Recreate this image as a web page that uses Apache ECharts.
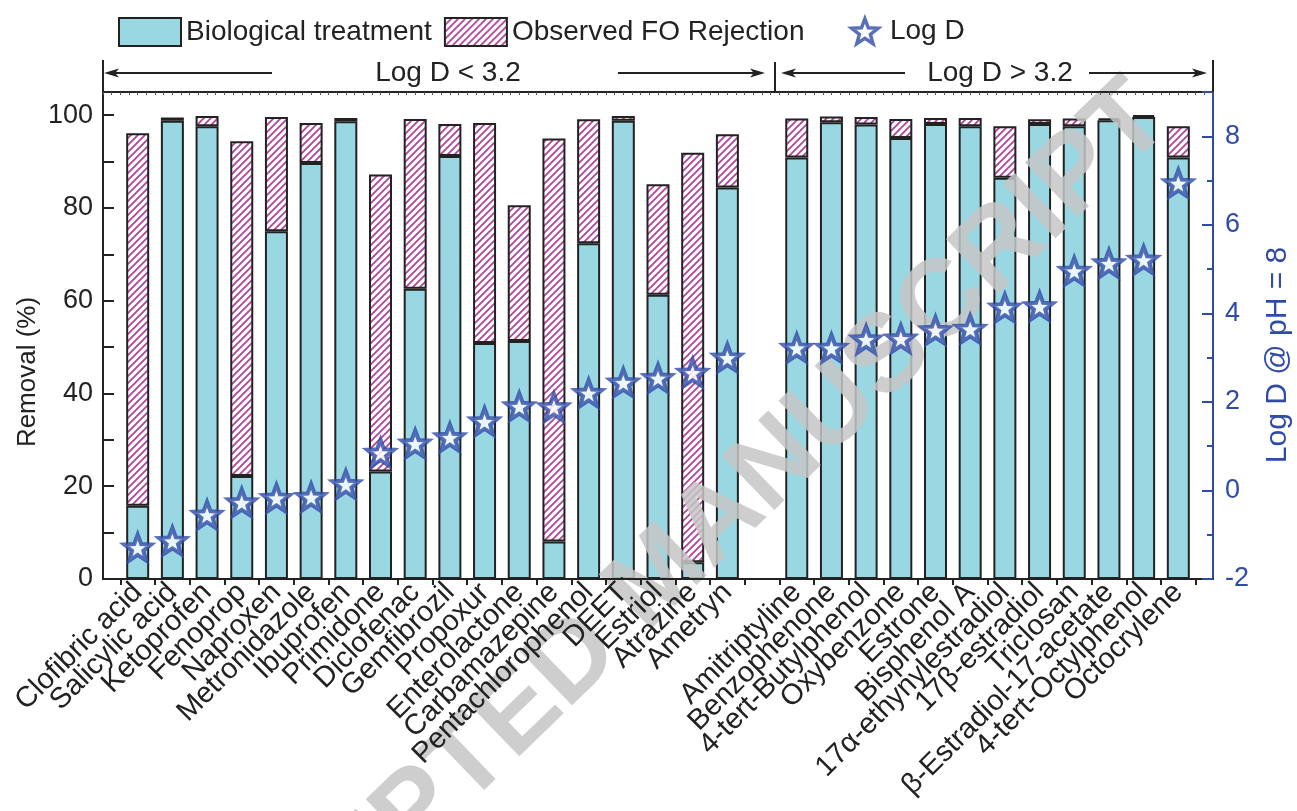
<!DOCTYPE html>
<html><head><meta charset="utf-8">
<script src="https://cdn.jsdelivr.net/npm/echarts@6/dist/echarts.min.js"></script>
<style>html,body{margin:0;padding:0;background:#fff}#c{width:1297px;height:811px}</style>
</head><body><div id="c"></div>
<script>
const categories = ['Clofibric acid','Salicylic acid','Ketoprofen','Fenoprop','Naproxen','Metronidazole','Ibuprofen','Primidone','Diclofenac','Gemfibrozil','Propoxur','Enterolactone','Carbamazepine','Pentachlorophenol','DEET','Estriol','Atrazine','Ametryn','',
 'Amitriptyline','Benzophenone','4-tert-Butylphenol','Oxybenzone','Estrone','Bisphenol A','17α-ethynylestradiol','17β-estradiol','Triclosan','β-Estradiol-17-acetate','4-tert-Octylphenol','Octocrylene'];
const biological = [15.8, 98.8, 97.6, 22.2, 75.0, 89.7, 98.7, 23.2, 62.6, 91.2, 50.9, 51.3, 8.1, 72.4, 98.8, 61.3, 3.6, 84.4, null,
 90.9, 98.5, 98.0, 95.1, 98.1, 97.6, 86.5, 98.1, 97.6, 98.9, 99.6, 90.9];
const observedTotal = [96.1, 99.5, 99.8, 94.4, 99.6, 98.3, 99.4, 87.2, 99.2, 98.1, 98.3, 80.6, 95.0, 99.1, 99.8, 85.1, 91.9, 95.9, null,
 99.3, 99.7, 99.6, 99.2, 99.4, 99.4, 97.6, 99.1, 99.3, 99.3, 100.0, 97.6];
const logD = [-1.29, -1.14, -0.55, -0.27, -0.17, -0.15, 0.14, 0.85, 1.06, 1.2, 1.56, 1.9, 1.88, 2.2, 2.44, 2.54, 2.66, 3.0, null,
 3.22, 3.22, 3.41, 3.43, 3.62, 3.65, 4.13, 4.16, 4.96, 5.13, 5.21, 6.94];
const groupLabels = ['Log D < 3.2', 'Log D > 3.2'];

const FONT = "'Liberation Sans', Arial, Helvetica, sans-serif";
const BLUE = '#2f4ba8';
const CYAN = '#99d8e3';
const MAG = '#b4479d';
const INK = '#222';

const W = 1297, H = 811;
const PL = 103, PR = 1213, PT = 92, PB = 579;
const half = (PR - PL) / 32 / 2;

const pc = document.createElement('canvas');
const s = 7; pc.width = s; pc.height = s;
const g = pc.getContext('2d');
g.fillStyle = '#fff'; g.fillRect(0, 0, s, s);
g.strokeStyle = MAG; g.lineWidth = 1.9;
g.beginPath();
g.moveTo(0, s); g.lineTo(s, 0);
g.moveTo(-2, 2); g.lineTo(2, -2);
g.moveTo(s - 2, s + 2); g.lineTo(s + 2, s - 2);
g.stroke();
const hatch = { image: pc, repeat: 'repeat' };

function starPath() {
  let p = '';
  for (let i = 0; i < 10; i++) {
    const r = i % 2 ? 0.42 : 1;
    const a = -Math.PI / 2 + i * Math.PI / 5;
    p += (i ? 'L' : 'M') + (r * Math.cos(a) * 10 + 10).toFixed(2) + ' ' + (r * Math.sin(a) * 10 + 10).toFixed(2);
  }
  return 'path://' + p + 'Z';
}
const STAR = starPath();

const foPart = observedTotal.map((t, i) => (t == null ? null : +(t - biological[i]).toFixed(2)));

const chart = echarts.init(document.getElementById('c'), null, { renderer: 'canvas' });

function arrow(x1, x2, y) {
  const dir = x2 > x1 ? 1 : -1;
  const L = 15, hw = 4.5;
  return [
    { type: 'line', shape: { x1: x1, y1: y, x2: x2 - dir * L * 0.6, y2: y }, style: { stroke: INK, lineWidth: 2 }, z: 50 },
    { type: 'polygon', shape: { points: [[x2, y], [x2 - dir * L, y - hw], [x2 - dir * L * 0.75, y], [x2 - dir * L, y + hw]] }, style: { fill: INK }, z: 50 }
  ];
}

const yA = 73;
const divX = 775;
const graphics = [
  { type: 'text', x: 660, y: 578, rotation: 44 * Math.PI / 180, silent: true,
    style: { text: 'ACCEPTED MANUSCRIPT', font: 'bold 110px ' + FONT, fill: 'rgba(198,198,198,0.85)', textAlign: 'center', textVerticalAlign: 'middle' }, z: 3 },
  { type: 'line', shape: { x1: PL, y1: 60, x2: PL, y2: PT }, style: { stroke: INK, lineWidth: 2 }, z: 50 },
  { type: 'line', shape: { x1: divX, y1: 62, x2: divX, y2: PT }, style: { stroke: INK, lineWidth: 2 }, z: 50 },
  { type: 'line', shape: { x1: PR, y1: 60, x2: PR, y2: PT }, style: { stroke: INK, lineWidth: 2 }, z: 50 },
  ...arrow(272, PL + 1, yA),
  ...arrow(618, 765, yA),
  ...arrow(905, 781, yA),
  ...arrow(1089, 1207, yA),
  { type: 'text', x: 448, y: yA, style: { text: groupLabels[0], font: '28px ' + FONT, fill: INK, textAlign: 'center', textVerticalAlign: 'middle' }, z: 50 },
  { type: 'text', x: 1000, y: yA, style: { text: groupLabels[1], font: '28px ' + FONT, fill: INK, textAlign: 'center', textVerticalAlign: 'middle' }, z: 50 },
  { type: 'text', x: 28, y: 372, rotation: Math.PI / 2, style: { text: 'Removal (%)', font: '26px ' + FONT, fill: INK, textAlign: 'center', textVerticalAlign: 'middle' }, z: 50 },
  { type: 'text', x: 1278, y: 355, rotation: Math.PI / 2, style: { text: 'Log D @ pH = 8', font: '30px ' + FONT, fill: BLUE, textAlign: 'center', textVerticalAlign: 'middle' }, z: 50 }
];

const option = {
  animation: false,
  backgroundColor: '#fff',
  textStyle: { fontFamily: FONT },
  legend: [
    { left: 113, top: 12, itemWidth: 62, itemHeight: 28, itemGap: 12, icon: 'rect', data: ['Biological treatment', 'Observed FO Rejection'],
      textStyle: { fontSize: 28, color: INK, fontFamily: FONT } },
    { left: 845, top: 12, itemWidth: 40, itemHeight: 25,
      data: [{ name: 'Log D', icon: STAR, itemStyle: { color: '#fff', borderColor: BLUE, borderWidth: 3.5 } }],
      textStyle: { fontSize: 28, color: INK, fontFamily: FONT } }
  ],
  grid: [
    { left: PL, right: W - PR, top: PT, bottom: H - PB },
    { left: PL + half, right: W - PR + half, top: PT, bottom: H - PB }
  ],
  xAxis: [
    { gridIndex: 0, type: 'value', min: 0, max: 1, position: 'bottom', z: 10,
      axisLine: { show: true, onZero: false, lineStyle: { color: INK, width: 2 } },
      axisTick: { show: false }, axisLabel: { show: false }, splitLine: { show: false } },
    { gridIndex: 0, type: 'value', min: 0, max: 128, interval: 1, position: 'top', z: 10,
      axisLine: { show: true, onZero: false, lineStyle: { color: INK, width: 2 } },
      axisTick: { show: true, inside: true, length: 3, lineStyle: { color: '#555', width: 1 } },
      axisLabel: { show: false }, splitLine: { show: false } },
    { gridIndex: 1, type: 'category', data: categories, position: 'bottom', z: 10,
      axisLine: { show: false, onZero: false },
      axisTick: { show: true, length: 6, interval: 0, alignWithLabel: false, lineStyle: { color: INK, width: 2 } },
      axisLabel: { interval: 0, rotate: 45, fontSize: 29, color: INK, margin: 9, fontFamily: FONT },
      splitLine: { show: false } }
  ],
  yAxis: [
    { gridIndex: 0, type: 'value', min: 0, max: 105, interval: 10, position: 'left', z: 10,
      axisLine: { show: true, onZero: false, lineStyle: { color: INK, width: 2 } },
      axisTick: { show: true, inside: true, length: 11, lineStyle: { color: INK, width: 2 } },
      axisLabel: { fontSize: 27, color: INK, margin: 10, fontFamily: FONT,
        formatter: v => (v % 20 === 0 ? String(v) : '') },
      splitLine: { show: false } },
    { gridIndex: 0, type: 'value', min: -2, max: 9, interval: 2, position: 'right', z: 10,
      axisLine: { show: true, onZero: false, lineStyle: { color: BLUE, width: 2 } },
      axisTick: { show: true, inside: true, length: 11, lineStyle: { color: BLUE, width: 2 } },
      axisLabel: { fontSize: 27, color: BLUE, margin: 12, fontFamily: FONT,
        formatter: v => (v % 2 === 0 && v <= 8 ? String(v) : '') },
      splitLine: { show: false } },
    { gridIndex: 1, type: 'value', min: 0, max: 105, show: false, position: 'left' },
    { gridIndex: 1, type: 'value', min: -2, max: 9, interval: 1, position: 'right', offset: half, z: 10,
      axisLine: { show: false, onZero: false },
      axisTick: { show: true, inside: true, length: 6, lineStyle: { color: BLUE, width: 2 } },
      axisLabel: { show: false }, splitLine: { show: false } }
  ],
  series: [
    { name: 'Biological treatment', type: 'bar', stack: 'r', xAxisIndex: 2, yAxisIndex: 2, barWidth: 23, z: 2,
      data: biological, itemStyle: { color: CYAN, borderColor: INK, borderWidth: 2 } },
    { name: 'Observed FO Rejection', type: 'bar', stack: 'r', xAxisIndex: 2, yAxisIndex: 2, barWidth: 23, z: 2,
      data: foPart, itemStyle: { color: hatch, borderColor: INK, borderWidth: 2 } },
    { name: 'Log D', type: 'scatter', xAxisIndex: 2, yAxisIndex: 3, data: logD, z: 5,
      symbol: STAR, symbolSize: [27, 26],
      itemStyle: { color: '#fff', borderColor: BLUE, borderWidth: 4 } }
  ],
  graphic: graphics
};
chart.setOption(option);
</script>
</body></html>
